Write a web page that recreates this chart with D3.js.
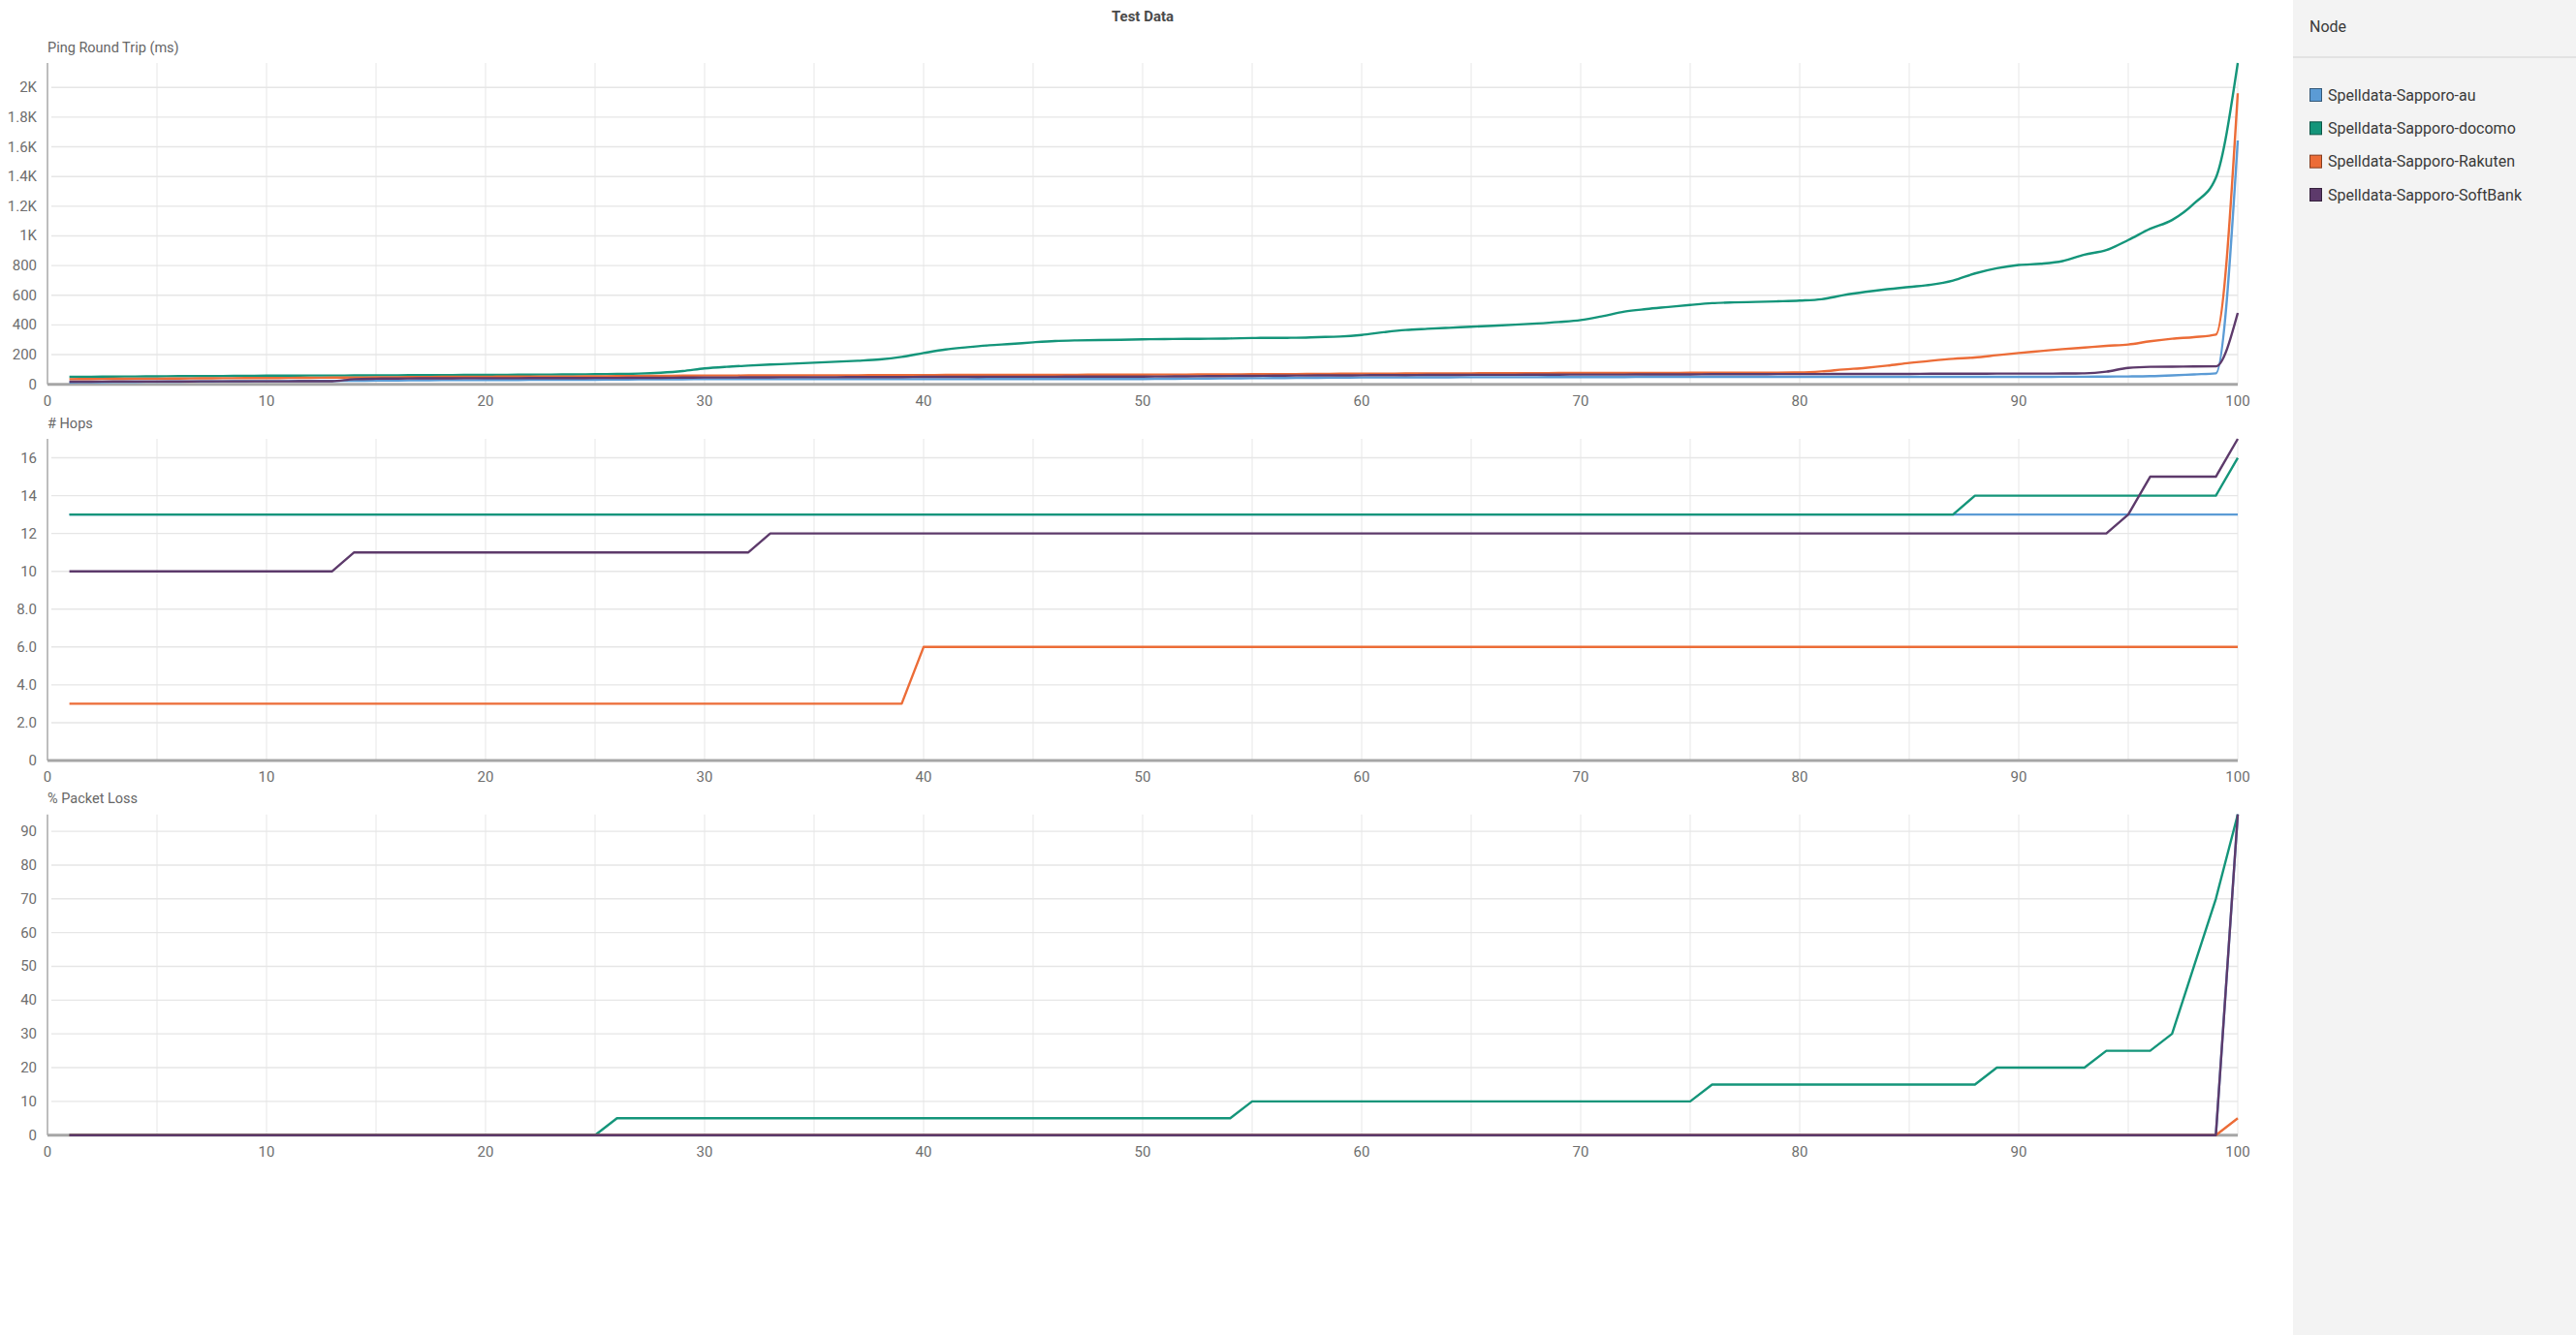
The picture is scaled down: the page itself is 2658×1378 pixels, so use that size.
<!DOCTYPE html>
<html>
<head>
<meta charset="utf-8">
<script src="https://cdn.jsdelivr.net/npm/d3@7"></script>
<style>
  html, body { margin: 0; padding: 0; background: #fff; }
  svg { display: block; font-family: Roboto, "Noto Sans", Arial, sans-serif; }
</style>
</head>
<body>
<svg id="chart" width="2658" height="1378"></svg>
<script>
// ---------------- DATA ----------------
const title = "Test Data";
const legendTitle = "Node";
const seriesNames = ["Spelldata-Sapporo-au", "Spelldata-Sapporo-docomo", "Spelldata-Sapporo-Rakuten", "Spelldata-Sapporo-SoftBank"];
const seriesColors = ["#5b9bd5", "#14957a", "#ec6c37", "#5d3a6b"];
const panelTitles = ["Ping Round Trip (ms)", "# Hops", "% Packet Loss"];
const xTicks = [0, 10, 20, 30, 40, 50, 60, 70, 80, 90, 100];
const xGrid = [5, 10, 15, 20, 25, 30, 35, 40, 45, 50, 55, 60, 65, 70, 75, 80, 85, 90, 95, 100];
const xValues = [1,2,3,4,5,6,7,8,9,10,11,12,13,14,15,16,17,18,19,20,21,22,23,24,25,26,27,28,29,30,31,32,33,34,35,36,37,38,39,40,41,42,43,44,45,46,47,48,49,50,51,52,53,54,55,56,57,58,59,60,61,62,63,64,65,66,67,68,69,70,71,72,73,74,75,76,77,78,79,80,81,82,83,84,85,86,87,88,89,90,91,92,93,94,95,96,97,98,99,100];

const pingAu = [13,14,15,16,17,18,19,20,21,22, 22,23,23,24,25,26,27,28,28,29, 29,30,30,31,31,32,33,34,34,35, 35,35,35,35,35,35,35,35,35,35, 35,35,36,36,36,36,36,36,36,36, 37,38,39,40,41,42,43,44,45,46, 46,47,47,47,48,48,48,48,49,49, 49,49,50,50,50,50,50,50,50,50, 50,50,50,50,50,50,50,50,50,50, 50,51,51,52,53,55,60,67,74,1643];
const pingDocomo = [50,51,52,53,54,55,55,56,57,58, 58,59,59,60,61,61,62,62,63,63, 64,65,66,67,68,70,72,78,89,107, 118,126,133,139,146,152,159,168,185,211, 235,250,263,272,283,292,296,298,300,303, 305,306,307,309,312,313,314,318,322,333, 351,366,374,381,388,395,402,410,420,433, 459,490,507,521,535,547,552,555,559,564, 573,601,623,641,656,671,699,747,782,804, 812,830,874,904,972,1048,1107,1218,1392,2165];
const pingRakuten = [35,36,37,38,38,39,40,41,42,42, 43,44,45,46,47,48,49,50,51,51, 52,52,53,53,54,55,56,57,58,59, 59,60,60,60,61,61,61,62,62,62, 63,63,63,63,64,64,64,65,65,65, 66,66,67,67,68,68,69,70,71,72, 72,73,73,74,74,75,75,75,76,76, 76,77,77,77,78,78,78,79,79,80, 87,100,111,126,144,159,172,181,196,211, 224,237,248,259,268,290,307,318,335,1961];
const pingSoftBank = [18,18,19,19,19,19,20,20,20,20, 20,21,21,35,38,39,40,40,41,41, 41,42,42,42,43,43,44,44,45,46, 46,47,47,48,48,48,49,49,49,50, 50,50,51,51,51,51,52,52,52,52, 53,54,55,56,57,58,59,60,60,61, 62,62,63,63,64,64,64,65,65,66, 66,66,67,67,67,68,68,68,69,69, 69,70,70,70,70,71,71,71,72,72, 72,73,74,85,111,118,119,120,121,481];

const hopsAu = [13,13,13,13,13,13,13,13,13,13, 13,13,13,13,13,13,13,13,13,13, 13,13,13,13,13,13,13,13,13,13, 13,13,13,13,13,13,13,13,13,13, 13,13,13,13,13,13,13,13,13,13, 13,13,13,13,13,13,13,13,13,13, 13,13,13,13,13,13,13,13,13,13, 13,13,13,13,13,13,13,13,13,13, 13,13,13,13,13,13,13,13,13,13, 13,13,13,13,13,13,13,13,13,13];
const hopsDocomo = [13,13,13,13,13,13,13,13,13,13, 13,13,13,13,13,13,13,13,13,13, 13,13,13,13,13,13,13,13,13,13, 13,13,13,13,13,13,13,13,13,13, 13,13,13,13,13,13,13,13,13,13, 13,13,13,13,13,13,13,13,13,13, 13,13,13,13,13,13,13,13,13,13, 13,13,13,13,13,13,13,13,13,13, 13,13,13,13,13,13,13,14,14,14, 14,14,14,14,14,14,14,14,14,16];
const hopsRakuten = [3,3,3,3,3,3,3,3,3,3, 3,3,3,3,3,3,3,3,3,3, 3,3,3,3,3,3,3,3,3,3, 3,3,3,3,3,3,3,3,3,6, 6,6,6,6,6,6,6,6,6,6, 6,6,6,6,6,6,6,6,6,6, 6,6,6,6,6,6,6,6,6,6, 6,6,6,6,6,6,6,6,6,6, 6,6,6,6,6,6,6,6,6,6, 6,6,6,6,6,6,6,6,6,6];
const hopsSoftBank = [10,10,10,10,10,10,10,10,10,10, 10,10,10,11,11,11,11,11,11,11, 11,11,11,11,11,11,11,11,11,11, 11,11,12,12,12,12,12,12,12,12, 12,12,12,12,12,12,12,12,12,12, 12,12,12,12,12,12,12,12,12,12, 12,12,12,12,12,12,12,12,12,12, 12,12,12,12,12,12,12,12,12,12, 12,12,12,12,12,12,12,12,12,12, 12,12,12,12,13,15,15,15,15,17];

const lossAu = [0,0,0,0,0,0,0,0,0,0, 0,0,0,0,0,0,0,0,0,0, 0,0,0,0,0,0,0,0,0,0, 0,0,0,0,0,0,0,0,0,0, 0,0,0,0,0,0,0,0,0,0, 0,0,0,0,0,0,0,0,0,0, 0,0,0,0,0,0,0,0,0,0, 0,0,0,0,0,0,0,0,0,0, 0,0,0,0,0,0,0,0,0,0, 0,0,0,0,0,0,0,0,0,95];
const lossDocomo = [0,0,0,0,0,0,0,0,0,0, 0,0,0,0,0,0,0,0,0,0, 0,0,0,0,0,5,5,5,5,5, 5,5,5,5,5,5,5,5,5,5, 5,5,5,5,5,5,5,5,5,5, 5,5,5,5,10,10,10,10,10,10, 10,10,10,10,10,10,10,10,10,10, 10,10,10,10,10,15,15,15,15,15, 15,15,15,15,15,15,15,15,20,20, 20,20,20,25,25,25,30,50,70,95];
const lossRakuten = [0,0,0,0,0,0,0,0,0,0, 0,0,0,0,0,0,0,0,0,0, 0,0,0,0,0,0,0,0,0,0, 0,0,0,0,0,0,0,0,0,0, 0,0,0,0,0,0,0,0,0,0, 0,0,0,0,0,0,0,0,0,0, 0,0,0,0,0,0,0,0,0,0, 0,0,0,0,0,0,0,0,0,0, 0,0,0,0,0,0,0,0,0,0, 0,0,0,0,0,0,0,0,0,5];
const lossSoftBank = [0,0,0,0,0,0,0,0,0,0, 0,0,0,0,0,0,0,0,0,0, 0,0,0,0,0,0,0,0,0,0, 0,0,0,0,0,0,0,0,0,0, 0,0,0,0,0,0,0,0,0,0, 0,0,0,0,0,0,0,0,0,0, 0,0,0,0,0,0,0,0,0,0, 0,0,0,0,0,0,0,0,0,0, 0,0,0,0,0,0,0,0,0,0, 0,0,0,0,0,0,0,0,0,95];

// ---------------- LAYOUT ----------------
const W = 2658, H = 1378;
const plotLeft = 49, plotRight = 2309;
const legendX = 2366;
const panels = [
  { title: panelTitles[0], series: [pingAu, pingDocomo, pingRakuten, pingSoftBank], top: 65, bottom: 396.7, curve: d3.curveMonotoneX,
    fmt: v => v >= 1000 ? (v / 1000) + "K" : String(v) },
  { title: panelTitles[1], series: [hopsAu, hopsDocomo, hopsRakuten, hopsSoftBank], top: 453, bottom: 785, curve: d3.curveLinear,
    fmt: v => v === 0 ? "0" : (v < 10 ? v.toFixed(1) : String(v)) },
  { title: panelTitles[2], series: [lossAu, lossDocomo, lossRakuten, lossSoftBank], top: 840.7, bottom: 1171.7, curve: d3.curveLinear,
    fmt: v => String(v) }
];

const svg = d3.select("#chart");
svg.append("rect").attr("width", W).attr("height", H).attr("fill", "#ffffff");

const x = d3.scaleLinear().domain([0, 100]).range([plotLeft, plotRight]);

// Title
svg.append("text")
  .attr("x", (plotLeft + plotRight) / 2).attr("y", 17)
  .attr("text-anchor", "middle").attr("dominant-baseline", "central")
  .attr("font-size", 15).attr("font-weight", "bold").attr("fill", "#4a4a4a")
  .text(title);

panels.forEach(p => {
  const maxV = d3.max(p.series.flat());
  const y = d3.scaleLinear().domain([0, maxV]).range([p.bottom, p.top]);
  const g = svg.append("g");

  // Axis title
  g.append("text")
    .attr("x", plotLeft).attr("y", p.top - 16)
    .attr("dominant-baseline", "central")
    .attr("font-size", 14.5).attr("fill", "#666")
    .text(p.title);

  // Vertical grid
  g.selectAll("line.vg").data(xGrid).join("line")
    .attr("x1", d => x(d)).attr("x2", d => x(d))
    .attr("y1", p.top).attr("y2", p.bottom)
    .attr("stroke", "#ebebeb").attr("stroke-width", 1.2);

  // Horizontal grid + y tick labels
  const yTicks = y.ticks(10);
  g.selectAll("line.hg").data(yTicks.filter(t => t > 0)).join("line")
    .attr("x1", plotLeft + 4).attr("x2", plotRight)
    .attr("y1", d => y(d)).attr("y2", d => y(d))
    .attr("stroke", "#e6e6e6").attr("stroke-width", 1.4);

  g.selectAll("text.yt").data(yTicks).join("text")
    .attr("x", plotLeft - 11).attr("y", d => y(d))
    .attr("text-anchor", "end").attr("dominant-baseline", "central")
    .attr("font-size", 15).attr("fill", "#6e6e6e")
    .text(p.fmt);

  // Left axis line
  g.append("line")
    .attr("x1", plotLeft).attr("x2", plotLeft)
    .attr("y1", p.top).attr("y2", p.bottom)
    .attr("stroke", "#a8a8a8").attr("stroke-width", 1.5);

  // Baseline
  g.append("line")
    .attr("x1", plotLeft).attr("x2", plotRight)
    .attr("y1", p.bottom).attr("y2", p.bottom)
    .attr("stroke", "#a6a6a6").attr("stroke-width", 3);

  // X tick labels
  g.selectAll("text.xt").data(xTicks).join("text")
    .attr("x", d => x(d)).attr("y", p.bottom + 17)
    .attr("text-anchor", "middle").attr("dominant-baseline", "central")
    .attr("font-size", 15).attr("fill", "#6e6e6e")
    .text(d => d);

  // Series lines
  const line = d3.line()
    .x((d, i) => x(xValues[i]))
    .y(d => y(d))
    .curve(p.curve);
  p.series.forEach((s, i) => {
    g.append("path")
      .attr("d", line(s))
      .attr("fill", "none")
      .attr("stroke", seriesColors[i])
      .attr("stroke-width", 2.4)
      .attr("stroke-linejoin", "round");
  });
});

// Legend panel
const lg = svg.append("g");
lg.append("rect").attr("x", legendX).attr("y", 0).attr("width", W - legendX).attr("height", H).attr("fill", "#f3f3f3");
lg.append("line").attr("x1", legendX).attr("x2", W).attr("y1", 59).attr("y2", 59).attr("stroke", "#dcdcdc").attr("stroke-width", 1.5);
lg.append("text").attr("x", 2383).attr("y", 27).attr("dominant-baseline", "central")
  .attr("font-size", 16).attr("fill", "#3a3a3a").text(legendTitle);

const ly = d3.scalePoint().domain(seriesNames).range([98, 201]);
seriesNames.forEach((n, i) => {
  lg.append("rect")
    .attr("x", 2383.5).attr("y", ly(n) - 6.5).attr("width", 12).attr("height", 13)
    .attr("fill", seriesColors[i])
    .attr("stroke", d3.color(seriesColors[i]).darker(1.6)).attr("stroke-width", 1);
  lg.append("text")
    .attr("x", 2402).attr("y", ly(n)).attr("dominant-baseline", "central")
    .attr("font-size", 16).attr("fill", "#3a3a3a").text(n);
});
</script>
</body>
</html>
